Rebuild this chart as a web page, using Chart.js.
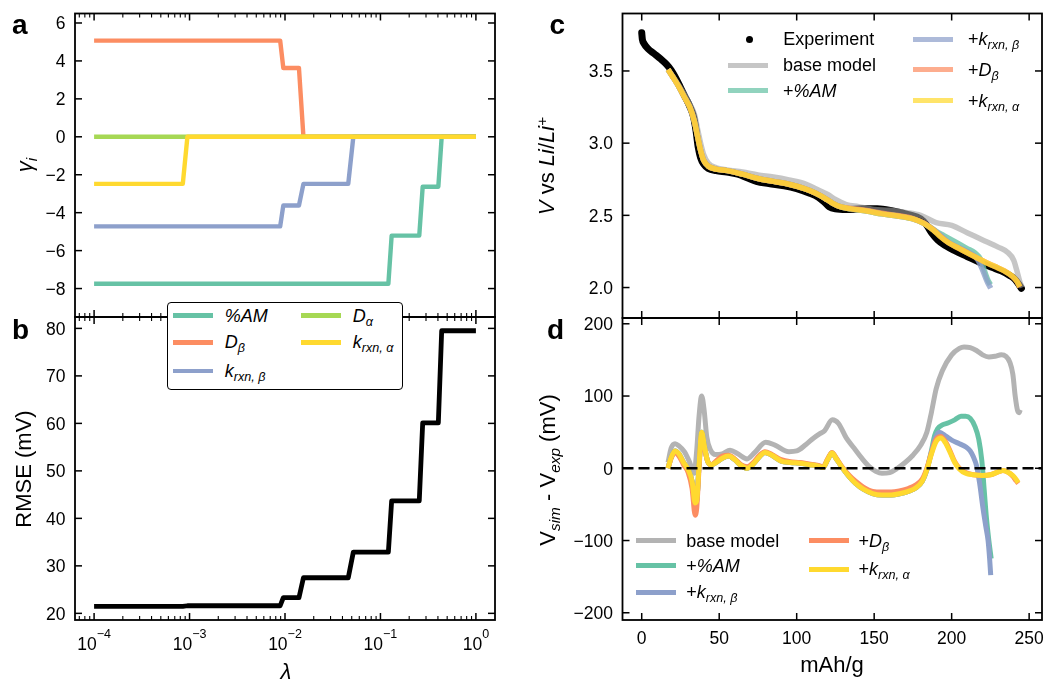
<!DOCTYPE html>
<html>
<head>
<meta charset="utf-8">
<script src="https://cdn.jsdelivr.net/npm/chart.js@4.4.1/dist/chart.umd.min.js"></script>
<style>
body { margin: 0; background: #fff; }
#fig { position: relative; width: 1047px; height: 684px; overflow: hidden; font-family: "Liberation Sans", Arial, Helvetica, sans-serif; color: #000; }
#fig canvas { position: absolute; left: 0; top: 0; }
.t { position: absolute; white-space: nowrap; line-height: 1; font-size: 18px; }
.t sub, .t sup { font-size: 0.7em; line-height: 0; position: relative; vertical-align: baseline; }
.t sub { top: 0.32em; }
.t sup { top: -0.45em; }
.rot { transform: translate(-50%, -50%) rotate(-90deg); font-size: 22px; }
.ctr { transform: translate(-50%, -50%); font-size: 22px; }
.letter { font-size: 28px; font-weight: bold; }
.leg { transform: translateY(-50%); }
.lline { position: absolute; width: 40px; }
#legB { position: absolute; left: 167px; top: 301.5px; width: 234px; height: 86px; border: 1.6px solid #000; border-radius: 4px; background: #fff; }
</style>
</head>
<body>
<div id="fig">
  <canvas id="chA" width="1047" height="684"></canvas>
  <canvas id="chB" width="1047" height="684"></canvas>
  <canvas id="chC" width="1047" height="684"></canvas>
  <canvas id="chD" width="1047" height="684"></canvas>
</div>
<script>
// ---- panel a / b : regularisation path against lambda ----
const lamAM   = [1e-4, 0.121, 0.131, 0.255, 0.277, 0.404, 0.438, 1];
const gamAM   = [-7.75, -7.75, -5.21, -5.21, -2.63, -2.63, 0, 0];
const lamDb   = [1e-4, 0.0089, 0.0096, 0.0140, 0.0156, 1];
const gamDb   = [5.07, 5.07, 3.63, 3.63, 0, 0];
const lamKb   = [1e-4, 0.0089, 0.0096, 0.0140, 0.0156, 0.046, 0.052, 1];
const gamKb   = [-4.72, -4.72, -3.62, -3.62, -2.48, -2.48, 0, 0];
const lamDa   = [1e-4, 1];
const gamDa   = [0, 0];
const lamKa   = [1e-4, 8.5e-4, 9.5e-4, 1];
const gamKa   = [-2.48, -2.48, 0, 0];
const lamRmse = [1e-4, 8.5e-4, 9.5e-4, 0.0089, 0.0096, 0.0140, 0.0156, 0.046, 0.052, 0.121, 0.131, 0.255, 0.277, 0.404, 0.438, 1];
const rmse    = [21.45, 21.45, 21.6, 21.6, 23.3, 23.3, 27.5, 27.5, 32.9, 32.9, 43.7, 43.7, 60.1, 60.1, 79.5, 79.5];

// ---- panel c : voltage vs capacity ----
const capExp = [0, 0.4, 1.5, 4, 8, 12, 16, 19, 22, 25, 28, 31, 33.5, 35, 36.5, 38, 40, 43, 48, 55, 62, 68, 74, 82, 92, 100, 108, 114, 118, 121, 125, 132, 142, 152, 162, 172, 180, 184, 187, 191, 196, 202, 210, 218, 226, 232, 238, 241, 243.5, 245];
const vExp   = [3.765, 3.72, 3.69, 3.655, 3.62, 3.585, 3.545, 3.505, 3.45, 3.385, 3.32, 3.255, 3.18, 3.09, 2.97, 2.9, 2.855, 2.825, 2.81, 2.8, 2.785, 2.76, 2.735, 2.72, 2.705, 2.685, 2.655, 2.625, 2.59, 2.56, 2.545, 2.54, 2.545, 2.545, 2.53, 2.505, 2.475, 2.43, 2.38, 2.33, 2.29, 2.255, 2.215, 2.175, 2.14, 2.115, 2.08, 2.055, 2.02, 1.995];
const capBaseC = [17, 20, 24, 28, 31, 34, 36, 38, 40, 43, 48, 55, 65, 75, 85, 95, 105, 113, 120, 125, 132, 140, 150, 160, 170, 180, 190, 200, 210, 220, 230, 236, 240, 242, 244, 245.5];
const vBaseC   = [3.51, 3.465, 3.40, 3.33, 3.27, 3.20, 3.10, 3.0, 2.92, 2.86, 2.83, 2.815, 2.80, 2.78, 2.765, 2.745, 2.72, 2.68, 2.645, 2.61, 2.575, 2.56, 2.54, 2.535, 2.52, 2.50, 2.45, 2.43, 2.38, 2.33, 2.28, 2.245, 2.19, 2.12, 2.04, 2.0];
const capSimC = [17, 20, 24, 28, 31, 34, 36, 38, 40, 43, 48, 55, 65, 75, 85, 95, 105, 112, 118, 123, 128, 135, 145, 155, 165, 175, 182, 188, 193, 198, 205, 212, 220, 228, 234, 239, 242, 244];
const vKaC    = [3.51, 3.46, 3.39, 3.31, 3.25, 3.15, 3.05, 2.95, 2.88, 2.84, 2.82, 2.81, 2.785, 2.755, 2.735, 2.715, 2.685, 2.655, 2.62, 2.585, 2.56, 2.545, 2.53, 2.51, 2.495, 2.475, 2.445, 2.40, 2.35, 2.31, 2.27, 2.23, 2.185, 2.145, 2.115, 2.08, 2.045, 2.005];
const vDbC    = [3.51, 3.46, 3.39, 3.31, 3.25, 3.15, 3.05, 2.95, 2.88, 2.84, 2.82, 2.81, 2.785, 2.755, 2.735, 2.715, 2.685, 2.655, 2.62, 2.585, 2.56, 2.548, 2.534, 2.514, 2.499, 2.478, 2.447, 2.402, 2.352, 2.31, 2.27, 2.23, 2.185, 2.145, 2.115, 2.078, 2.043, 2.003];
const capAMTailC = [186, 190, 195, 200, 205, 210, 215, 219, 221, 223, 225];
const vAMTailC   = [2.42, 2.39, 2.36, 2.33, 2.30, 2.27, 2.24, 2.19, 2.12, 2.06, 2.02];
const capKbTailC = [188, 192, 196, 200, 205, 209, 214, 217, 220, 223, 225.2];
const vKbTailC   = [2.40, 2.37, 2.33, 2.30, 2.275, 2.255, 2.225, 2.19, 2.12, 2.04, 1.995];

// ---- panel d : simulation minus experiment (mV) ----
const capBaseD = [17, 19, 21.5, 24, 27.5, 31, 33.8, 35.5, 37, 38.7, 40.3, 42, 44.5, 47.5, 52, 57, 62, 68, 73, 80, 86, 95, 100, 106, 111, 115, 118, 123, 127, 132, 137, 142, 147, 151, 155, 160, 165, 170, 175, 180, 184, 187, 190, 194, 200, 205, 208, 212, 216, 220, 224, 228, 232, 235, 237.5, 239.5, 241, 242.5, 243.5, 244.3];
const errBase  = [8, 28, 34, 31, 23, 8, -7, 25, 72, 100, 80, 43, 25, 19, 20, 25, 20, 13, 22, 36, 32, 23, 24, 33, 42, 48, 52, 67, 62, 42, 28, 14, 2, -4, -7, -6, 0, 8, 18, 32, 50, 78, 110, 135, 157, 166, 168, 167, 163, 157, 154, 155, 157, 155, 147, 130, 100, 80, 77, 81];
const capSimD = [17, 19, 21.5, 24, 27, 30, 32.5, 34.5, 35.5, 37, 38.7, 40.5, 42.5, 45, 48, 52, 56, 60, 64, 68, 72, 76, 79.5, 84, 90, 96, 102, 108, 114, 117, 120, 122.8, 125, 129, 134, 138, 143, 149, 155, 161, 167, 172, 177, 181, 184, 187, 190, 193, 196, 199, 202, 205, 209, 214, 220, 225, 230, 233, 236, 239.5, 241.5, 243];
const errKa   = [0, 15, 24, 20, 8, -2, -18, -48, -45, 5, 50, 30, 10, 5, 8, 14, 17, 12, 4, 0, 6, 16, 22, 18, 10, 8, 7, 5, 3, 1, 12, 21, 15, 2, -12, -21, -29, -35, -37, -37, -35, -32, -27, -18, -2, 20, 37, 42, 35, 22, 8, -1, -7, -9, -10, -9, -5, -3, -5, -10, -15, -20];
const errDb   = [0, 14, 22, 17, 5, -6, -28, -65, -55, 0, 45, 28, 10, 5, 10, 17, 18, 13, 5, 2, 8, 18, 23, 19, 12, 9, 8, 6, 4, 2, 13, 22, 16, 3, -10, -18, -26, -32, -33, -33, -31, -28, -23, -15, 0, 22, 40, 44, 37, 24, 9, 0, -6, -9, -10, -9, -5, -3, -5, -11, -17, -21];
const capAMTailD = [187, 189, 191, 194, 198, 202, 206, 209, 212, 215, 217.5, 219.5, 221, 222.5, 224, 225.5];
const errAMTail  = [25, 45, 55, 60, 63, 67, 72, 72, 69, 58, 40, 10, -30, -70, -100, -125];
const capKbTailD = [187, 189.5, 192, 196, 200, 205, 209.5, 212, 214, 216, 218, 220, 222, 223.5, 224.5, 225.2];
const errKbTail  = [22, 42, 50, 45, 39, 34, 29, 24, 16, 4, -20, -52, -80, -100, -125, -148];

// ---- ticks ----
const gammaTicks = [-8, -6, -4, -2, 0, 2, 4, 6];
const rmseTicks  = [20, 30, 40, 50, 60, 70, 80];
const lamTicks   = [1e-4, 1e-3, 1e-2, 1e-1, 1];
const lamExp     = ['\u22124', '\u22123', '\u22122', '\u22121', '0'];
const voltTicks  = [2.0, 2.5, 3.0, 3.5];
const errTicks   = [-200, -100, 0, 100, 200];
const capTicks   = [0, 50, 100, 150, 200, 250];

const W = 1047, H = 684;
const FONT = '"Liberation Sans", Arial, Helvetica, sans-serif';
const TEAL = '#66c2a5', ORANGE = '#fc8d62', BLUE = '#8da0cb', GREEN = '#a6d854', YELLOW = '#ffd92f';

const LAM_MIN = Math.pow(10, -4.2), LAM_MAX = Math.pow(10, 0.2);
const lamMinor = [];
for (let k = -5; k <= 0; k++) {
    for (let m = 2; m <= 9; m++) {
        const v = m * Math.pow(10, k);
        if (v > LAM_MIN && v < LAM_MAX) lamMinor.push(v);
    }
}

const xy = (xs, ys) => xs.map((x, i) => ({ x: x, y: ys[i] }));

function series(xs, ys, color, width, extra) {
    return Object.assign({
        data: xy(xs, ys),
        borderColor: color,
        borderWidth: width,
        pointRadius: 0,
        fill: false,
        tension: 0,
        borderJoinStyle: 'round'
    }, extra || {});
}
const smooth = { cubicInterpolationMode: 'monotone' };

// chart.js paints the first dataset on top; flip it so later ones sit above (matplotlib order)
function stacked(list) {
    list.forEach((ds, i) => { ds.order = list.length - i; });
    return list;
}

const fmt = (v, d) => (v < 0 ? '\u2212' : '') + Math.abs(v).toFixed(d);

// inward ticks on all four sides, frame, tick labels
function framePlugin(cfg) {
    return {
        id: 'frame',
        afterDraw(chart) {
            const ctx = chart.ctx, a = chart.chartArea;
            const xs = chart.scales.x, ys = chart.scales.y;
            const seg = (x1, y1, x2, y2) => { ctx.beginPath(); ctx.moveTo(x1, y1); ctx.lineTo(x2, y2); ctx.stroke(); };
            ctx.save();
            ctx.strokeStyle = '#000';
            ctx.lineCap = 'butt';
            ctx.lineWidth = 1.1;
            (cfg.xMinor || []).forEach(v => {
                const p = xs.getPixelForValue(v);
                seg(p, a.top, p, a.top + 4);
                seg(p, a.bottom, p, a.bottom - 4);
            });
            ctx.lineWidth = 1.5;
            cfg.xMajor.forEach(v => {
                const p = xs.getPixelForValue(v);
                seg(p, a.top, p, a.top + 7);
                seg(p, a.bottom, p, a.bottom - 7);
            });
            cfg.yMajor.forEach(v => {
                const p = ys.getPixelForValue(v);
                seg(a.left, p, a.left + 7, p);
                seg(a.right, p, a.right - 7, p);
            });
            ctx.lineWidth = 1.8;
            ctx.strokeRect(a.left, a.top, a.right - a.left, a.bottom - a.top);

            ctx.fillStyle = '#000';
            ctx.font = '17.5px ' + FONT;
            ctx.textBaseline = 'alphabetic';
            ctx.textAlign = 'right';
            cfg.yMajor.forEach(v => {
                const p = ys.getPixelForValue(v);
                ctx.fillText(cfg.yText(v), a.left - 9.5, p + 6.3);
            });
            if (cfg.xText) {
                ctx.textAlign = 'center';
                cfg.xMajor.forEach(v => {
                    ctx.fillText(cfg.xText(v), xs.getPixelForValue(v), a.bottom + 23.5);
                });
            }
            if (cfg.xExp) {
                ctx.textAlign = 'left';
                cfg.xMajor.forEach((v, i) => {
                    const p = xs.getPixelForValue(v);
                    ctx.font = '17.5px ' + FONT;
                    const w10 = ctx.measureText('10').width;
                    ctx.font = '12.5px ' + FONT;
                    const we = ctx.measureText(cfg.xExp[i]).width;
                    const x0 = p - (w10 + we) / 2;
                    ctx.font = '17.5px ' + FONT;
                    ctx.fillText('10', x0, a.bottom + 30);
                    ctx.font = '12.5px ' + FONT;
                    ctx.fillText(cfg.xExp[i], x0 + w10, a.bottom + 18);
                });
            }
            ctx.restore();
        }
    };
}

function makeChart(id, box, xScale, yScale, datasets, frameCfg) {
    return new Chart(document.getElementById(id), {
        type: 'line',
        data: { datasets: stacked(datasets) },
        options: {
            responsive: false,
            animation: false,
            events: [],
            layout: { padding: { left: box.l, top: box.t, right: W - box.r, bottom: H - box.b } },
            scales: {
                x: Object.assign({ display: false }, xScale),
                y: Object.assign({ display: false }, yScale)
            },
            plugins: { legend: { display: false }, tooltip: { enabled: false } }
        },
        plugins: [framePlugin(frameCfg)]
    });
}

const lamScale = { type: 'logarithmic', min: LAM_MIN, max: LAM_MAX };
const capScale = { type: 'linear', min: -12.4, max: 258.3 };

// a: coefficients
makeChart('chA', { l: 75, t: 13.5, r: 495, b: 317 }, lamScale,
    { type: 'linear', min: -9.5, max: 6.5 },
    [
        series(lamAM, gamAM, TEAL, 4.4),
        series(lamDb, gamDb, ORANGE, 4.4),
        series(lamKb, gamKb, BLUE, 4.4),
        series(lamDa, gamDa, GREEN, 4.4),
        series(lamKa, gamKa, YELLOW, 4.4)
    ],
    { xMajor: lamTicks, xMinor: lamMinor, yMajor: gammaTicks, yText: v => fmt(v, 0) });

// b: RMSE
makeChart('chB', { l: 75, t: 317, r: 495, b: 620 }, lamScale,
    { type: 'linear', min: 18.6, max: 82.4 },
    [series(lamRmse, rmse, '#000', 4.8)],
    { xMajor: lamTicks, xMinor: lamMinor, yMajor: rmseTicks, yText: v => fmt(v, 0), xExp: lamExp });

// c: discharge curves
const cA = 0.8;
makeChart('chC', { l: 622.5, t: 13.5, r: 1042, b: 318 }, capScale,
    { type: 'linear', min: 1.789, max: 3.898 },
    [
        series(capExp, vExp, '#000', 7, Object.assign({ borderCapStyle: 'round' }, smooth)),
        series(capBaseC, vBaseC, 'rgba(160,160,160,0.6)', 5.5, smooth),
        series(capSimC.slice(0, 27).concat(capAMTailC), vKaC.slice(0, 27).concat(vAMTailC), 'rgba(102,194,165,' + cA + ')', 5.5, smooth),
        series(capSimC.slice(0, 27).concat(capKbTailC), vKaC.slice(0, 27).concat(vKbTailC), 'rgba(141,160,203,' + cA + ')', 5.5, smooth),
        series(capSimC, vDbC, 'rgba(252,141,98,' + cA + ')', 5.5, smooth),
        series(capSimC, vKaC, 'rgba(255,217,47,' + cA + ')', 5.5, smooth)
    ],
    { xMajor: capTicks, yMajor: voltTicks, yText: v => v.toFixed(1) });

// d: residuals
makeChart('chD', { l: 622.5, t: 318, r: 1042, b: 620 }, capScale,
    { type: 'linear', min: -210, max: 208 },
    [
        series(capBaseD, errBase, '#b3b3b3', 5, smooth),
        series(capSimD.slice(0, 45).concat(capAMTailD), errKa.slice(0, 45).concat(errAMTail), TEAL, 5, smooth),
        series(capSimD.slice(0, 45).concat(capKbTailD), errKa.slice(0, 45).concat(errKbTail), BLUE, 5, smooth),
        series(capSimD, errDb, ORANGE, 5, smooth),
        series(capSimD, errKa, YELLOW, 5, smooth),
        series([-12.4, 258.3], [0, 0], '#000', 2.4, { borderDash: [11, 5] })
    ],
    { xMajor: capTicks, yMajor: errTicks, yText: v => fmt(v, 0), xText: v => String(v) });

// ---- text overlays ----
const fig = document.getElementById('fig');
function txt(html, x, y, cls, style) {
    const d = document.createElement('div');
    d.className = 't ' + (cls || '');
    d.innerHTML = html;
    d.style.left = x + 'px';
    d.style.top = y + 'px';
    if (style) Object.assign(d.style, style);
    fig.appendChild(d);
    return d;
}
function legLine(x, y, color, lw) {
    const d = document.createElement('div');
    d.className = 'lline';
    d.style.left = x + 'px';
    d.style.top = (y - lw / 2) + 'px';
    d.style.height = lw + 'px';
    d.style.background = color;
    fig.appendChild(d);
}
function entry(x, y, color, html, lw, gap) {
    legLine(x, y, color, lw);
    txt(html, x + (gap || 52), y, 'leg');
}

// panel letters
txt('a', 12, 11.3, 'letter');
txt('b', 12, 315.5, 'letter');
txt('c', 549.5, 11.3, 'letter');
txt('d', 547, 315.5, 'letter');

// axis titles
txt('<i>\u03b3<sub>i</sub></i>', 25, 165, 'rot');
txt('RMSE (mV)', 24, 468.5, 'rot');
txt('<i>\u03bb</i>', 286, 672, 'ctr');
txt('<i>V</i> vs <i>Li</i>/<i>Li</i><sup>+</sup>', 547, 165.5, 'rot');
txt('V<sub><i>sim</i></sub> - V<sub><i>exp</i></sub> (mV)', 547.5, 469.5, 'rot');
txt('mAh/g', 832, 664.5, 'ctr');

// legend b (framed)
const lb = document.createElement('div');
lb.id = 'legB';
fig.appendChild(lb);
entry(172.7, 315.7, TEAL, '<i>%AM</i>', 4.6);
entry(172.7, 342.3, ORANGE, '<i>D<sub>\u03b2</sub></i>', 4.6);
entry(172.7, 371.2, BLUE, '<i>k<sub>rxn, \u03b2</sub></i>', 4.6);
entry(300.7, 315.7, GREEN, '<i>D<sub>\u03b1</sub></i>', 4.6);
entry(300.7, 342.3, YELLOW, '<i>k<sub>rxn, \u03b1</sub></i>', 4.6);

// legend c
const dot = document.createElement('div');
Object.assign(dot.style, { position: 'absolute', left: '745.8px', top: '35.8px', width: '7px', height: '7px', borderRadius: '50%', background: '#000' });
fig.appendChild(dot);
txt('Experiment', 783.3, 39.3, 'leg');
entry(728, 65, 'rgba(160,160,160,0.6)', 'base model', 5, 55);
entry(728, 90.8, 'rgba(102,194,165,0.72)', '+<i>%AM</i>', 5, 55);
entry(913, 39.3, 'rgba(141,160,203,0.72)', '+<i>k<sub>rxn, \u03b2</sub></i>', 5, 55);
entry(913, 69.8, 'rgba(252,141,98,0.72)', '+<i>D<sub>\u03b2</sub></i>', 5, 55);
entry(913, 100.5, 'rgba(255,217,47,0.72)', '+<i>k<sub>rxn, \u03b1</sub></i>', 5, 55);

// legend d
entry(636.3, 540.7, '#b3b3b3', 'base model', 5, 50);
entry(636.3, 565.7, TEAL, '+<i>%AM</i>', 5, 50);
entry(636.3, 592.3, BLUE, '+<i>k<sub>rxn, \u03b2</sub></i>', 5, 50);
entry(808.5, 540.7, ORANGE, '+<i>D<sub>\u03b2</sub></i>', 5, 50);
entry(808.5, 569.3, YELLOW, '+<i>k<sub>rxn, \u03b1</sub></i>', 5, 50);
</script>
</body>
</html>
